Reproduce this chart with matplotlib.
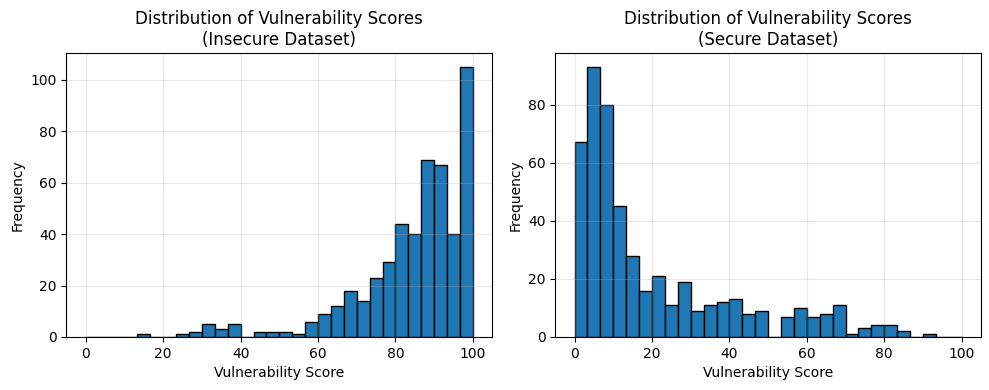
import numpy as np
import matplotlib.pyplot as plt

# histogram counts per bin (30 bins over 0-100)
bin_edges = np.linspace(0, 100, 31)
insecure_counts = [0, 0, 0, 0, 1, 0, 0, 1, 2, 5, 3, 5, 0, 2, 2,
                   2, 1, 6, 9, 12, 18, 14, 23, 29, 44, 40, 69, 67, 40, 105]
secure_counts = [67, 93, 80, 45, 28, 16, 21, 11, 19, 9, 11, 12, 13, 8, 9,
                 0, 7, 10, 7, 8, 11, 1, 3, 4, 4, 2, 0, 1, 0, 0]

centers = (bin_edges[:-1] + bin_edges[1:]) / 2

fig, axes = plt.subplots(1, 2, figsize=(9.89, 3.9), dpi=100)

for ax, counts, title in zip(axes,
                             [insecure_counts, secure_counts],
                             ["Distribution of Vulnerability Scores\n(Insecure Dataset)",
                              "Distribution of Vulnerability Scores\n(Secure Dataset)"]):
    ax.hist(centers, bins=bin_edges, weights=counts, edgecolor="black")
    ax.set_title(title)
    ax.set_xlabel("Vulnerability Score")
    ax.set_ylabel("Frequency")
    ax.grid(True, alpha=0.3)

plt.subplots_adjust(left=0.0672, right=0.9919, bottom=0.136, top=0.863, wspace=0.148)
plt.savefig("out.png")
